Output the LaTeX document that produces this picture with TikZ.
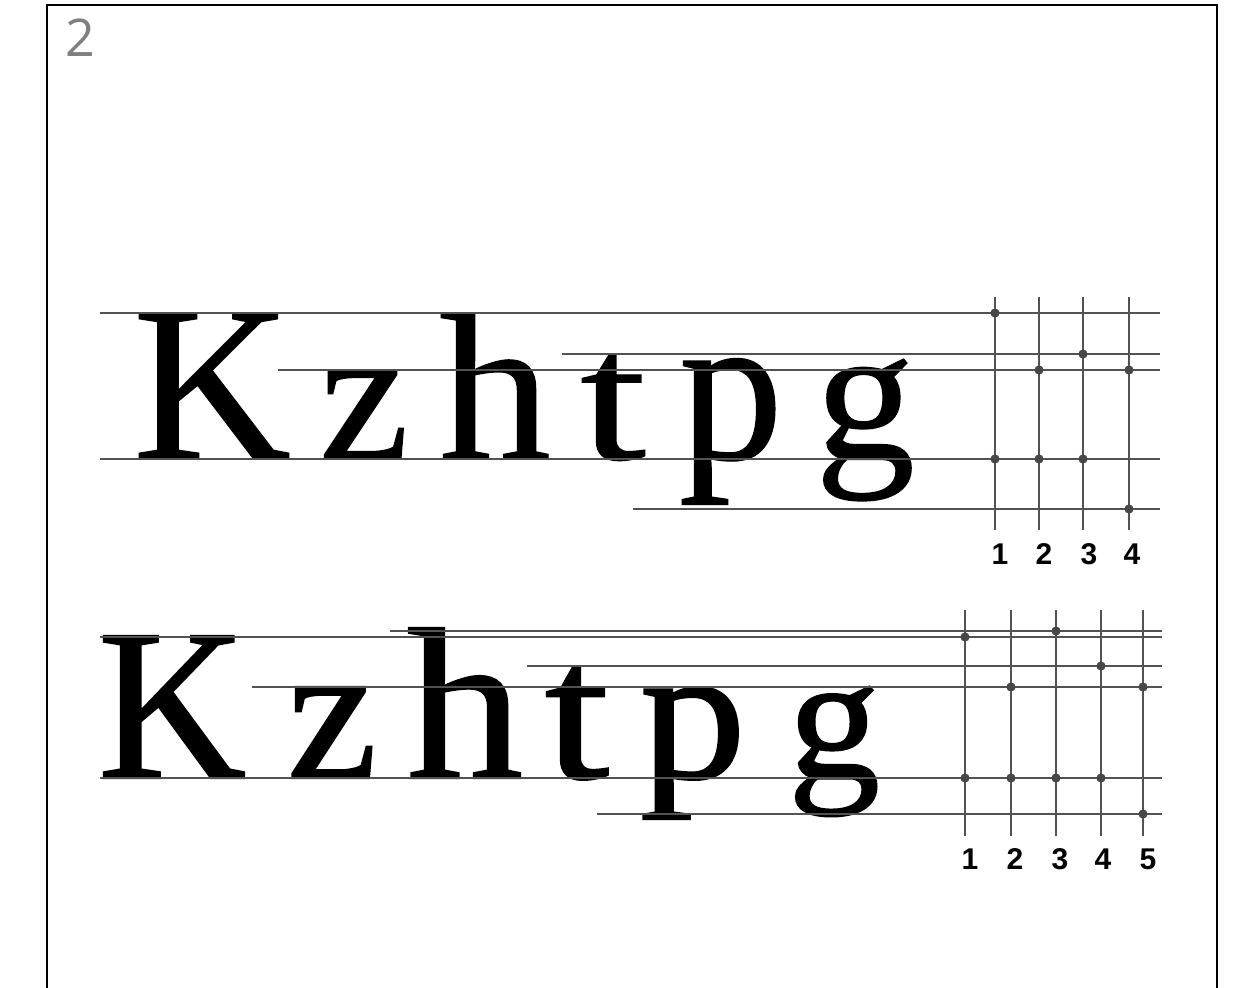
\documentclass[tikz,border=0pt]{standalone}
\usepackage{fontspec}
\usepackage{graphicx}
\usetikzlibrary{positioning}
\newfontfamily\upperfont{Liberation Serif}[FakeBold=0.6]
\newfontfamily\lowerfont{Liberation Serif}[FakeBold=1.1]
\newfontfamily\numfont{Liberation Sans}
\newfontfamily\pagefont{Open Sans}
\newlength{\px}\setlength{\px}{0.5pt}
% stretch one letter to its measured width and total height
\newcommand{\fitglyph}[3]{\resizebox*{#1\px}{#2\px}{#3}}
\tikzset{
  frame/.style={line width=1pt,black},
  guide/.style={line width=1pt,black!68},
  gdot/.style={circle,fill=black!72,inner sep=0pt,minimum size=4.6pt},
  glyph/.style={anchor=base,inner sep=0pt},
  colnum/.style={anchor=base,inner sep=0pt,font=\numfont\bfseries\fontsize{15}{15}\selectfont},
  pagenum/.style={anchor=base,inner sep=0pt,text=black!50,font=\pagefont\fontsize{26}{26}\selectfont},
}

\begin{document}
\begin{tikzpicture}[x=0.5pt,y=-0.5pt]
  \useasboundingbox (0,0) rectangle (1235,988);
  % frame, open at the bottom
  \draw[frame] (47,988) -- (47,5) -- (1217,5) -- (1217,988);
  \node[pagenum] (fig) at (80,57) {2};

  % ---- upper specimen ----
  \foreach \l/\x/\w/\h in {K/212/158/146,z/364/90/89,h/495/112/146,t/613/66/105,p/731/104/146,g/865/100/142}
    \node[glyph,font=\upperfont\fontsize{100}{100}\selectfont] (up-\l) at (\x,459) {\fitglyph{\w}{\h}{\l}};
  \foreach \n/\x/\y in {cap/100/313,asc/562/354,xh/278/370,base/100/459,desc/633/509}{
    \coordinate (up-\n-w) at (\x,\y);
    \coordinate (up-\n-e) at (1160,\y);
    \draw[guide] (up-\n-w) -- (up-\n-e);
  }
  \foreach \c/\x/\lx in {1/995/1000,2/1039/1044,3/1083/1089,4/1129/1132}{
    \coordinate (up-v\c-n) at (\x,297);
    \coordinate (up-v\c-s) at (\x,530);
    \draw[guide] (up-v\c-n) -- (up-v\c-s);
    \node[colnum] (up-num\c) at (\lx,564) {\c};
  }
  % where each column meets its lines
  \foreach \x/\y in {995/313,995/459,1039/370,1039/459,1083/354,1083/459,1129/370,1129/509}
    \node[gdot] at (\x,\y) {};

  % ---- lower specimen ----
  \foreach \l/\x/\w/\h in {K/172/148/142,z/332/90/91,h/465/116/150,t/577/64/112,p/693/106/132,g/834/92/130}
    \node[glyph,font=\lowerfont\fontsize{100}{100}\selectfont] (lo-\l) at (\x,778) {\fitglyph{\w}{\h}{\l}};
  \foreach \n/\x/\y in {asc/390/631,cap/100/637,t/527/666,xh/252/687,base/100/778,desc/597/814}{
    \coordinate (lo-\n-w) at (\x,\y);
    \coordinate (lo-\n-e) at (1162,\y);
    \draw[guide] (lo-\n-w) -- (lo-\n-e);
  }
  \foreach \c/\x/\lx in {1/965/970,2/1011/1015,3/1056/1060,4/1101/1103,5/1143/1148}{
    \coordinate (lo-v\c-n) at (\x,610);
    \coordinate (lo-v\c-s) at (\x,836);
    \draw[guide] (lo-v\c-n) -- (lo-v\c-s);
    \node[colnum] (lo-num\c) at (\lx,869) {\c};
  }
  \foreach \x/\y in {965/637,965/778,1011/687,1011/778,1056/631,1056/778,1101/666,1101/778,1143/687,1143/814}
    \node[gdot] at (\x,\y) {};
\end{tikzpicture}
\end{document}
